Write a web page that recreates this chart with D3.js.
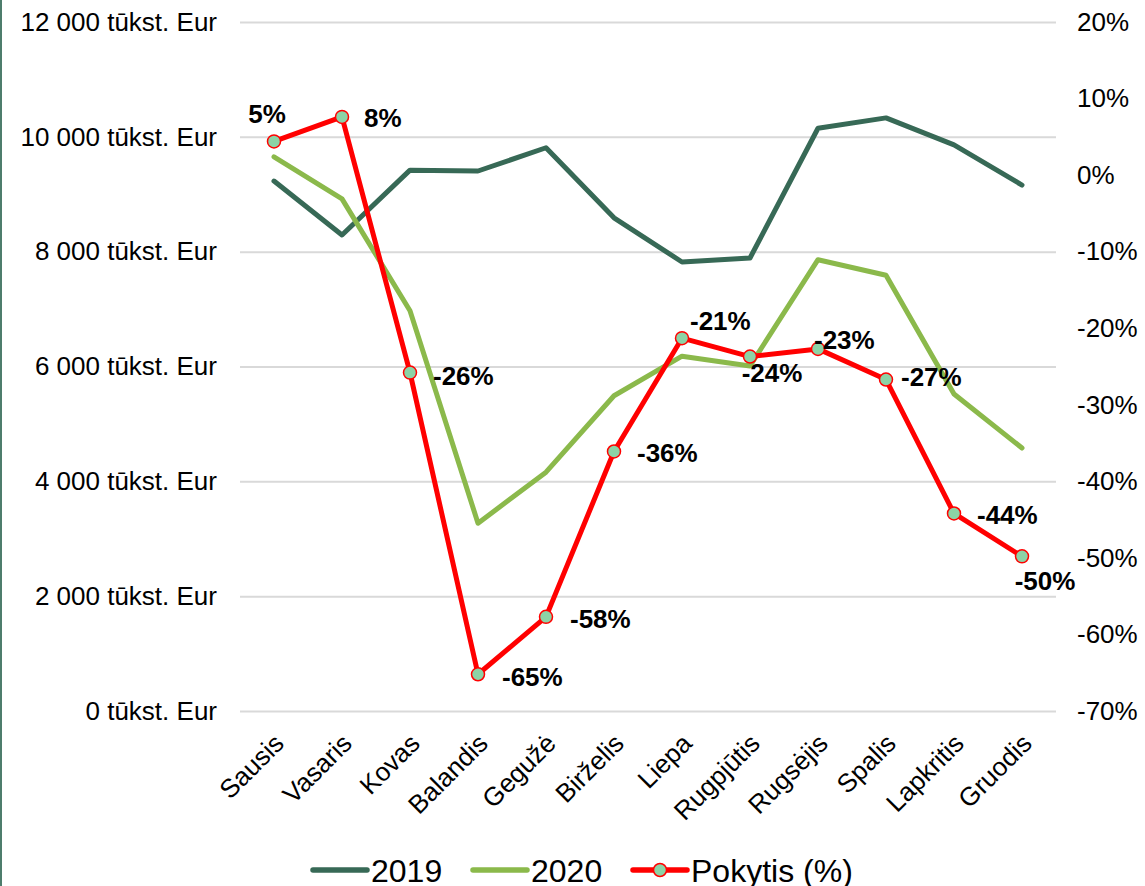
<!DOCTYPE html>
<html>
<head>
<meta charset="utf-8">
<script src="https://cdn.jsdelivr.net/npm/d3@7"></script>
<style>
  html, body { margin: 0; padding: 0; background: #fff; }
  svg { display: block; font-family: "Liberation Sans", Arial, sans-serif; }
</style>
</head>
<body>
<div id="chart"></div>
<script>
// data
const months = ["Sausis","Vasaris","Kovas","Balandis","Gegužė","Birželis","Liepa","Rugpjūtis","Rugsėjis","Spalis","Lapkritis","Gruodis"];
const values2019 = [9230, 8290, 9420, 9405, 9810, 8590, 7820, 7890, 10150, 10330, 9860, 9160];
const values2020 = [9650, 8920, 6970, 3270, 4160, 5490, 6180, 6010, 7860, 7590, 5520, 4580];
const change = [4.4, 7.6, -25.8, -65.2, -57.7, -36.1, -21.3, -23.7, -22.7, -26.7, -44.2, -49.8];
const changeLabels = ["5%","8%","-26%","-65%","-58%","-36%","-21%","-24%","-23%","-27%","-44%","-50%"];
const leftTicks = [0, 2000, 4000, 6000, 8000, 10000, 12000];
const rightTicks = [20, 10, 0, -10, -20, -30, -40, -50, -60, -70];
const seriesNames = ["2019", "2020", "Pokytis (%)"];

// label placement (dx, dy from point)
const labelPlace = [
  {dx: -7, dy: -18, anchor: "middle"},
  {dx: 22, dy: 10, anchor: "start"},
  {dx: 23, dy: 12, anchor: "start"},
  {dx: 24, dy: 12, anchor: "start"},
  {dx: 24, dy: 11, anchor: "start"},
  {dx: 23, dy: 11, anchor: "start"},
  {dx: 8, dy: -8, anchor: "start"},
  {dx: 22, dy: 25, anchor: "middle"},
  {dx: -4, dy: 0, anchor: "start"},
  {dx: 15, dy: 6, anchor: "start"},
  {dx: 23, dy: 11, anchor: "start"},
  {dx: 23, dy: 34, anchor: "middle"}
];

const W = 1145, H = 886;
const plot = { left: 240, right: 1056, top: 22, bottom: 711 };
const FONT = "Liberation Sans, Arial, sans-serif";

const svg = d3.select("#chart").append("svg")
  .attr("width", W).attr("height", H);

// thin border at the left edge
svg.append("rect").attr("x", 0).attr("y", 0).attr("width", 2).attr("height", H)
  .attr("fill", "#4e7d6c");

const x = d3.scalePoint()
  .domain(months)
  .range([plot.left, plot.right])
  .padding(0.5);

const yL = d3.scaleLinear().domain([0, 12000]).range([plot.bottom, plot.top]);
const yR = d3.scaleLinear().domain([-70, 20]).range([plot.bottom, plot.top]);

const fmt = d => d3.format(",")(d).replace(/,/g, " ") + " tūkst. Eur";

// gridlines + left axis
svg.append("g")
  .attr("transform", `translate(${plot.left},0)`)
  .call(d3.axisLeft(yL).tickValues(leftTicks).tickFormat(fmt)
    .tickSize(-(plot.right - plot.left)).tickPadding(23))
  .call(g => g.select(".domain").remove())
  .call(g => g.selectAll("line").attr("stroke", "#d9d9d9").attr("stroke-width", 2))
  .call(g => g.selectAll("text").attr("fill", "#000").attr("font-size", 26)
    .attr("font-family", FONT));

// right axis
svg.append("g")
  .attr("transform", `translate(${plot.right},0)`)
  .call(d3.axisRight(yR).tickValues(rightTicks).tickFormat(d => d + "%")
    .tickSize(0).tickPadding(21))
  .call(g => g.select(".domain").remove())
  .call(g => g.selectAll("text").attr("fill", "#000").attr("font-size", 26)
    .attr("font-family", FONT));

// category axis
svg.append("g")
  .attr("transform", `translate(0,${plot.bottom})`)
  .call(d3.axisBottom(x).tickSize(0).tickPadding(0))
  .call(g => g.select(".domain").remove())
  .call(g => g.selectAll("text")
    .attr("fill", "#000").attr("font-size", 26)
    .attr("font-family", FONT)
    .attr("text-anchor", "end")
    .attr("dy", null)
    .attr("transform", "translate(11,34) rotate(-45)"));

const lineL = d3.line().x((d, i) => x(months[i])).y(d => yL(d));
const lineChg = d3.line().x((d, i) => x(months[i])).y(d => yR(d));

svg.append("path").datum(values2019)
  .attr("d", lineL).attr("fill", "none")
  .attr("stroke", "#376956").attr("stroke-width", 5).attr("stroke-linejoin", "round")
  .attr("stroke-linecap", "round");

svg.append("path").datum(values2020)
  .attr("d", lineL).attr("fill", "none")
  .attr("stroke", "#8bb94b").attr("stroke-width", 5).attr("stroke-linejoin", "round")
  .attr("stroke-linecap", "round");

svg.append("path").datum(change)
  .attr("d", lineChg).attr("fill", "none")
  .attr("stroke", "#ff0000").attr("stroke-width", 5).attr("stroke-linejoin", "round");

svg.append("g").selectAll("circle")
  .data(change)
  .join("circle")
    .attr("cx", (d, i) => x(months[i]))
    .attr("cy", d => yR(d))
    .attr("r", 6.5)
    .attr("fill", "#8cd3a6")
    .attr("stroke", "#ff0000")
    .attr("stroke-width", 1.5);

svg.append("g").selectAll("text")
  .data(change)
  .join("text")
    .attr("x", (d, i) => x(months[i]) + labelPlace[i].dx)
    .attr("y", (d, i) => yR(d) + labelPlace[i].dy)
    .attr("text-anchor", (d, i) => labelPlace[i].anchor)
    .attr("font-size", 26)
    .attr("font-weight", "bold")
    .attr("fill", "#000")
    .text((d, i) => changeLabels[i]);

// legend
const legendColors = ["#376956", "#8bb94b", "#ff0000"];
const legendX = [313, 473, 633];
const legend = svg.append("g").attr("transform", "translate(0,870)");
seriesNames.forEach((name, i) => {
  const g = legend.append("g").attr("transform", `translate(${legendX[i]},0)`);
  g.append("line").attr("x1", 0).attr("x2", 54).attr("y1", 0).attr("y2", 0)
    .attr("stroke", legendColors[i]).attr("stroke-width", 5.5).attr("stroke-linecap", "round");
  if (i === 2) {
    g.append("circle").attr("cx", 27).attr("cy", 0).attr("r", 6.5)
      .attr("fill", "#8cd3a6").attr("stroke", "#ff0000").attr("stroke-width", 1.5);
  }
  g.append("text").attr("x", 58).attr("y", 12)
    .attr("font-size", 32).attr("fill", "#000").text(name);
});
</script>
</body>
</html>
